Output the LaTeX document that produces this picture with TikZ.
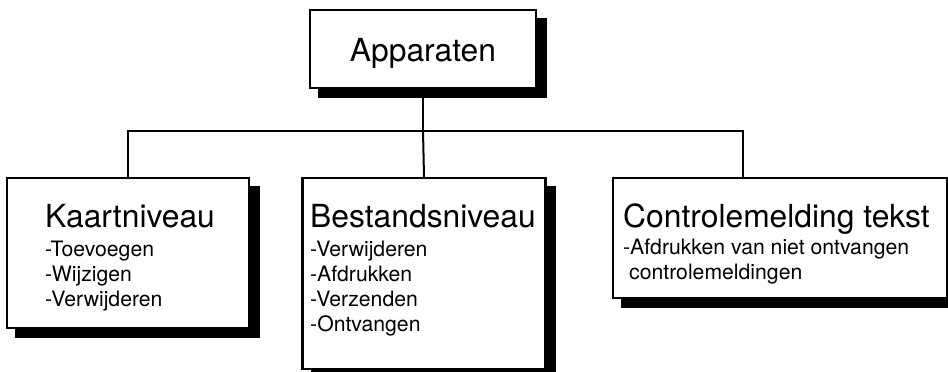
\documentclass[tikz,border=0pt]{standalone}
\usepackage{fontspec}
\setmainfont{TeX Gyre Heros}
\usetikzlibrary{backgrounds}

\tikzset{
  kader/.style={draw, line width=2.2pt, fill=white, inner sep=0pt},
  kop/.style={inner sep=0pt, anchor=base west, font=\fontsize{31.8}{38}\selectfont},
  item/.style={inner sep=0pt, anchor=base west, font=\fontsize{21.2}{25}\selectfont},
  lijn/.style={line width=2pt}
}

\begin{document}
\begin{tikzpicture}[x=1pt,y=1pt]
            \useasboundingbox (0,0) rectangle (948,372);

            % Kaders
            \node[kader, minimum width=226pt, minimum height=78pt] (apparaten) at (423,323) {};
            \node[kader, minimum width=242pt, minimum height=150pt] (kaart) at (128,119) {};
            \node[kader, minimum width=243pt, minimum height=191pt] (bestand) at (424,98.5) {};
            \node[kader, minimum width=334pt, minimum height=120pt] (controle) at (780,134) {};

            % Schaduwen
            \begin{scope}[on background layer]
                \foreach \n in {apparaten,kaart,bestand,controle}
                    \fill ([shift={(9.5,-9)}]\n.south west) rectangle ([shift={(9.5,-9)}]\n.north east);
            \end{scope}

            % Verbindingen
            \coordinate (tak) at (423,241);
            \draw[lijn] (apparaten.south) -- (tak);
            \draw[lijn] (kaart.north) |- (tak) -| ([xshift=-37pt]controle.north);
            \draw[lijn] (tak) -- (bestand.north);

            % Teksten
            \node[kop, anchor=base] (apparatentekst) at (423,310) {Apparaten};
            \node[kop] (kaartkop) at (45,144) {Kaartniveau};
            \node[kop] (bestandkop) at (310,144) {Bestandsniveau};
            \node[kop] (controlekop) at (623,144) {Controlemelding tekst};

            \foreach \tekst [count=\i] in {-Toevoegen,-Wijzigen,-Verwijderen}
                \node[item] (kaart-\i) at (45,140-25*\i) {\tekst};
            \foreach \tekst [count=\i] in {-Verwijderen,-Afdrukken,-Verzenden,-Ontvangen}
                \node[item] (bestand-\i) at (310,140-25*\i) {\tekst};
            \node[item] (controle-1) at (623,117) {-Afdrukken van niet ontvangen};
            \node[item] (controle-2) at (629,92) {controlemeldingen};
        \end{tikzpicture}
\end{document}
